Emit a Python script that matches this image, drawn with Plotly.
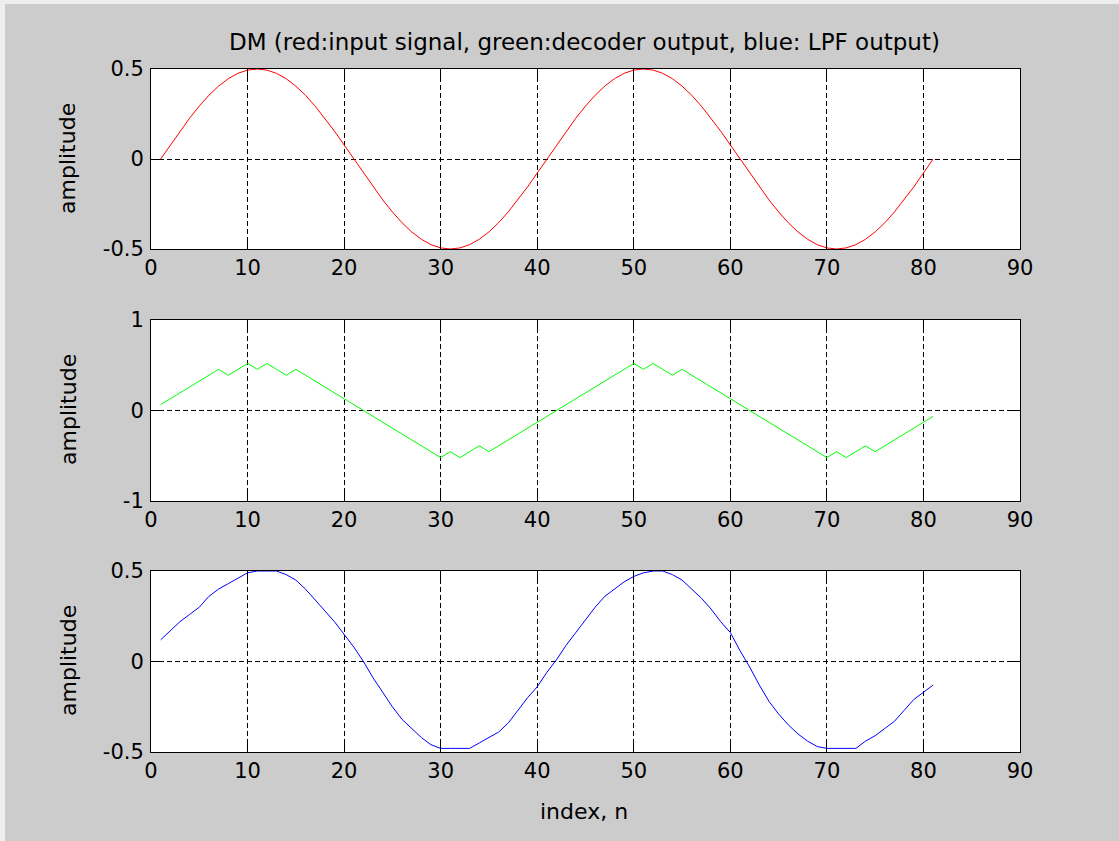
import plotly.graph_objects as go

# ---- data ----
n = list(range(1, 82))

input_signal = [
    0, 0.078, 0.155, 0.227, 0.294, 0.354, 0.405, 0.446, 0.476, 0.494,
    0.5, 0.494, 0.476, 0.446, 0.405, 0.354, 0.294, 0.227, 0.155, 0.078,
    0, -0.078, -0.155, -0.227, -0.294, -0.354, -0.405, -0.446, -0.476, -0.494,
    -0.5, -0.494, -0.476, -0.446, -0.405, -0.354, -0.294, -0.227, -0.155, -0.078,
    0, 0.078, 0.155, 0.227, 0.294, 0.354, 0.405, 0.446, 0.476, 0.494,
    0.5, 0.494, 0.476, 0.446, 0.405, 0.354, 0.294, 0.227, 0.155, 0.078,
    0, -0.078, -0.155, -0.227, -0.294, -0.354, -0.405, -0.446, -0.476, -0.494,
    -0.5, -0.494, -0.476, -0.446, -0.405, -0.354, -0.294, -0.227, -0.155, -0.078,
    0,
]

decoder_output = [
    0.065, 0.13, 0.195, 0.26, 0.325, 0.39, 0.455, 0.39, 0.455, 0.52,
    0.455, 0.52, 0.455, 0.39, 0.455, 0.39, 0.325, 0.26, 0.195, 0.13,
    0.065, 0, -0.065, -0.13, -0.195, -0.26, -0.325, -0.39, -0.455, -0.52,
    -0.455, -0.52, -0.455, -0.39, -0.455, -0.39, -0.325, -0.26, -0.195, -0.13,
    -0.065, 0, 0.065, 0.13, 0.195, 0.26, 0.325, 0.39, 0.455, 0.52,
    0.455, 0.52, 0.455, 0.39, 0.455, 0.39, 0.325, 0.26, 0.195, 0.13,
    0.065, 0, -0.065, -0.13, -0.195, -0.26, -0.325, -0.39, -0.455, -0.52,
    -0.455, -0.52, -0.455, -0.39, -0.455, -0.39, -0.325, -0.26, -0.195, -0.13,
    -0.065,
]

lpf_output = [
    0.12, 0.17, 0.22, 0.26, 0.30, 0.36, 0.40, 0.43, 0.46, 0.49,
    0.50, 0.50, 0.50, 0.48, 0.45, 0.40, 0.34, 0.28, 0.22, 0.15,
    0.08, 0.00, -0.09, -0.17, -0.25, -0.32, -0.37, -0.42, -0.46, -0.48,
    -0.48, -0.48, -0.48, -0.45, -0.42, -0.39, -0.34, -0.27, -0.20, -0.14,
    -0.06, 0.01, 0.09, 0.16, 0.23, 0.30, 0.36, 0.40, 0.44, 0.47,
    0.49, 0.50, 0.50, 0.48, 0.45, 0.40, 0.35, 0.29, 0.22, 0.16,
    0.06, -0.03, -0.13, -0.22, -0.29, -0.35, -0.40, -0.44, -0.47, -0.48,
    -0.48, -0.48, -0.48, -0.44, -0.41, -0.37, -0.33, -0.27, -0.21, -0.17,
    -0.13,
]

x_ticks = [0, 10, 20, 30, 40, 50, 60, 70, 80, 90]
y_ticks_half = [-0.5, 0, 0.5]
y_text_half = ["-0.5", "0", "0.5"]
y_ticks_one = [-1, 0, 1]
y_text_one = ["-1", "0", "1"]

title_text = "DM (red:input signal, green:decoder output, blue: LPF output)"
ylabel_text = "amplitude"
xlabel_text = "index, n"

# ---- figure ----
FONT = "DejaVu Sans, Verdana, sans-serif"
BG = "#cccccc"

fig = go.Figure()
fig.add_trace(go.Scatter(x=n, y=input_signal, mode="lines",
                         line=dict(color="#ff0000", width=1), xaxis="x", yaxis="y"))
fig.add_trace(go.Scatter(x=n, y=decoder_output, mode="lines",
                         line=dict(color="#00ff00", width=1), xaxis="x2", yaxis="y2"))
fig.add_trace(go.Scatter(x=n, y=lpf_output, mode="lines",
                         line=dict(color="#0000ff", width=1), xaxis="x3", yaxis="y3"))

# pixel geometry of the reference
L, R, T, B = 151, 1020, 69, 752
W, H = 1119, 841
ph = B - T


def py(ypx):
    return (B - ypx) / ph


def px(xpx):
    return (xpx - L) / (R - L)


domains = [(py(249), 1.0), (py(501), py(320)), (0.0, py(571))]

common_x = dict(range=[0, 90], tickvals=x_ticks, ticktext=[str(v) for v in x_ticks],
                ticks="inside", ticklen=8, tickcolor="black", tickwidth=1,
                showline=True, linecolor="black", linewidth=1, mirror="ticks",
                showgrid=True, gridcolor="black", gridwidth=1, griddash="5px,3px",
                zeroline=False, tickfont=dict(family=FONT, size=21, color="black"),
                fixedrange=True)
common_y = dict(ticks="inside", ticklen=8, tickcolor="black", tickwidth=1,
                showline=True, linecolor="black", linewidth=1, mirror="ticks",
                showgrid=True, gridcolor="black", gridwidth=1, griddash="5px,3px",
                zeroline=False, tickfont=dict(family=FONT, size=21, color="black"),
                ticklabelstandoff=2, fixedrange=True)

layout = dict(
    width=W, height=H,
    margin=dict(l=L, r=W - R, t=T, b=H - B, pad=0),
    paper_bgcolor=BG, plot_bgcolor="white",
    showlegend=False,
    font=dict(family=FONT, color="black"),
)
for i, (d, yt, ytt, yr) in enumerate([
        (domains[0], y_ticks_half, y_text_half, [-0.5, 0.5]),
        (domains[1], y_ticks_one, y_text_one, [-1, 1]),
        (domains[2], y_ticks_half, y_text_half, [-0.5, 0.5])]):
    sfx = "" if i == 0 else str(i + 1)
    ax = dict(common_x)
    ax["anchor"] = "y" + sfx
    ax["domain"] = [0, 1]
    ay = dict(common_y)
    ay.update(anchor="x" + sfx, domain=list(d), range=yr, tickvals=yt, ticktext=ytt)
    layout["xaxis" + sfx] = ax
    layout["yaxis" + sfx] = ay

annotations = [
    dict(text=title_text, x=px(584), y=py(42), xref="paper", yref="paper",
         showarrow=False, xanchor="center", yanchor="middle",
         font=dict(family=FONT, size=23, color="black")),
    dict(text=xlabel_text, x=px(584), y=py(811), xref="paper", yref="paper",
         showarrow=False, xanchor="center", yanchor="middle",
         font=dict(family=FONT, size=22, color="black")),
]
for yc in [159, 410, 661]:
    annotations.append(dict(text=ylabel_text, x=px(68), y=py(yc), xref="paper",
                            yref="paper", showarrow=False, textangle=-90,
                            xanchor="center", yanchor="middle",
                            font=dict(family=FONT, size=22, color="black")))
layout["annotations"] = annotations

# thin light frame along the top and left edges, as in the reference screenshot
layout["shapes"] = [
    dict(type="rect", xref="paper", yref="paper", x0=px(0), x1=px(W), y0=py(0), y1=py(4),
         fillcolor="#eeeeee", line=dict(width=0), layer="below"),
    dict(type="rect", xref="paper", yref="paper", x0=px(0), x1=px(5), y0=py(0), y1=py(H),
         fillcolor="#eeeeee", line=dict(width=0), layer="below"),
]

fig.update_layout(**layout)
fig.write_html("out.html", config={"displayModeBar": False},
               post_script="document.body.style.margin='0px';")
